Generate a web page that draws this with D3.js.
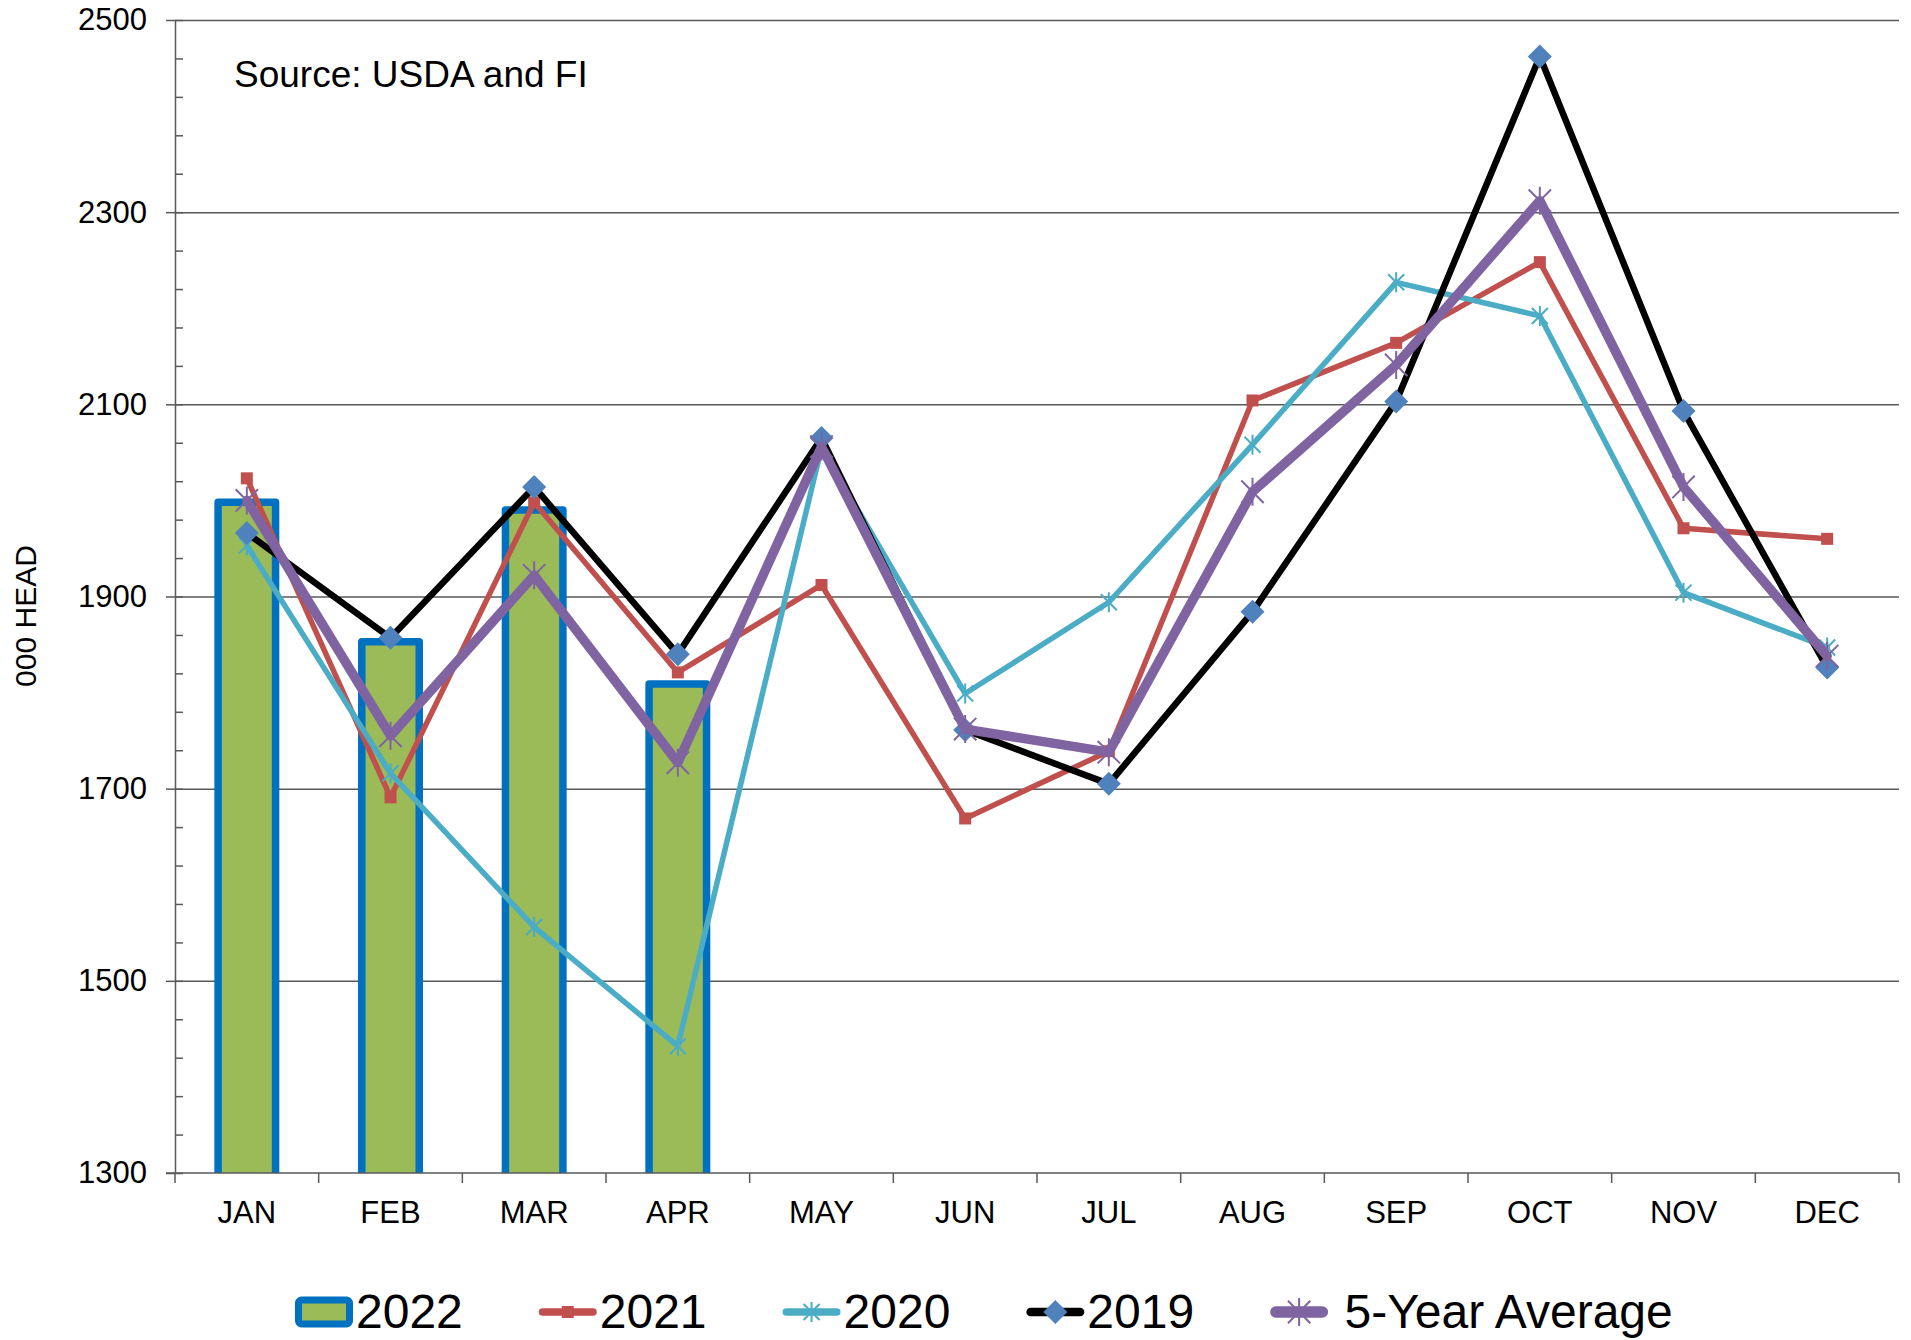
<!DOCTYPE html>
<html>
<head>
<meta charset="utf-8">
<script src="https://cdnjs.cloudflare.com/ajax/libs/d3/7.8.5/d3.min.js"></script>
<style>
  body { margin: 0; background: #fff; }
  text { font-family: "Liberation Sans", Arial, sans-serif; fill: #000; }
</style>
</head>
<body>
<div id="chart"></div>
<script>
// data (000 head)
var months = ["JAN", "FEB", "MAR", "APR", "MAY", "JUN", "JUL", "AUG", "SEP", "OCT", "NOV", "DEC"]
var yTicks = [1300, 1500, 1700, 1900, 2100, 2300, 2500]
var v2022 = [1998, 1853, 1990, 1809]
var v2021 = [2023, 1691, 1998, 1821, 1912, 1669, 1739, 2104, 2164, 2248, 1971, 1960]
var v2020 = [1953, 1716, 1556, 1432, 2055, 1799, 1894, 2058, 2227, 2192, 1904, 1847]
var v2019 = [1966, 1857, 2014, 1840, 2065, 1761, 1705, 1884, 2103, 2462, 2093, 1826]
var v5yr = [2000, 1755, 1922, 1727, 2056, 1762, 1738, 2009, 2141, 2312, 2014, 1838]
var seriesNames = ["2022", "2021", "2020", "2019", " 5-Year Average"]

var margin = {top: 20, right: 12, bottom: 167, left: 175},
    fullW = 1911, fullH = 1340,
    width = fullW - margin.left - margin.right,
    height = fullH - margin.top - margin.bottom

var svg = d3.select("#chart")
    .append("svg")
    .attr("width", fullW)
    .attr("height", fullH)

var g = svg.append("g")
    .attr("transform", "translate(" + margin.left + "," + margin.top + ")")

var x = d3.scaleBand().domain(months).range([0, width]).padding(0)
var y = d3.scaleLinear().domain([1300, 2500]).range([height, 0])

// gridlines
g.append("g")
    .call(d3.axisLeft(y).tickValues(yTicks.slice(1)).tickSize(-width).tickFormat(""))
    .call(s => s.select(".domain").remove())
    .selectAll("line")
    .attr("stroke", "#868686")
    .attr("stroke-width", 1.5)

g.append("clipPath").attr("id", "plot")
    .append("rect").attr("width", width).attr("height", height)

// 2022 bars
var barW = x.bandwidth() * 0.4
g.append("g").attr("clip-path", "url(#plot)")
    .selectAll("rect")
    .data(v2022)
    .enter()
    .append("rect")
    .attr("x", (d, i) => x(months[i]) + (x.bandwidth() - barW) / 2)
    .attr("y", d => y(d))
    .attr("width", barW)
    .attr("height", d => y(1300) - y(d) + 10)
    .attr("fill", "#9BBB59")
    .attr("stroke", "#0070C0")
    .attr("stroke-width", 7.5)
    .attr("stroke-linejoin", "round")

// y axis: major ticks outside, minor ticks inside
var yAxis = g.append("g")
    .call(d3.axisLeft(y).tickValues(yTicks).tickSize(9).tickPadding(19).tickSizeOuter(0).tickFormat(d3.format("d")))
yAxis.selectAll("text").attr("font-size", "31px")
var minor = d3.range(1300, 2501, 40)
g.append("g")
    .call(d3.axisRight(y).tickValues(minor).tickSize(8).tickFormat("").tickSizeOuter(0))
    .select(".domain").remove()
g.selectAll(".tick line").attr("stroke", "#595959").attr("stroke-width", 1.5)
yAxis.select(".domain").attr("stroke", "#595959").attr("stroke-width", 1.5)

// x axis
var xAxis = g.append("g")
    .attr("transform", "translate(0," + height + ")")
xAxis.append("line")
    .attr("x1", -9).attr("x2", width)
    .attr("stroke", "#595959").attr("stroke-width", 1.5)
xAxis.selectAll(".bound")
    .data(months.concat(["end"]))
    .enter()
    .append("line")
    .attr("x1", d => d == "end" ? width : x(d))
    .attr("x2", d => d == "end" ? width : x(d))
    .attr("y1", 0).attr("y2", 10)
    .attr("stroke", "#595959").attr("stroke-width", 1.5)
xAxis.selectAll(".lbl")
    .data(months)
    .enter()
    .append("text")
    .attr("x", d => x(d) + x.bandwidth() / 2)
    .attr("y", 50)
    .attr("text-anchor", "middle")
    .attr("font-size", "31px")
    .text(d => d)

// markers
function diamond(sel, color, r) {
    sel.append("path").attr("d", "M0," + (-r) + "L" + r + ",0L0," + r + "L" + (-r) + ",0Z")
        .attr("fill", color)
}
function square(sel, color, s) {
    sel.append("rect").attr("x", -s / 2).attr("y", -s / 2).attr("width", s).attr("height", s)
        .attr("fill", color)
}
function star(sel, color, r) {
    var a = r * 0.8
    sel.append("path")
        .attr("d", "M" + (-a) + "," + (-a) + "L" + a + "," + a + "M" + a + "," + (-a) + "L" + (-a) + "," + a +
            "M0," + (-r) + "L0," + r)
        .attr("stroke", color).attr("stroke-width", 2).attr("fill", "none")
}

var lineSeries = [
    {name: "2021", values: v2021, color: "#C0504D", lw: 5.5, marker: s => square(s, "#C0504D", 12)},
    {name: "2020", values: v2020, color: "#4BACC6", lw: 5.5, marker: s => star(s, "#4BACC6", 10)},
    {name: "2019", values: v2019, color: "#000000", lw: 6.5, marker: s => diamond(s, "#4F81BD", 12)},
    {name: "5yr", values: v5yr, color: "#8064A2", lw: 9.5, marker: s => star(s, "#8064A2", 14)}
]

var line = d3.line()
    .x((d, i) => x(months[i]) + x.bandwidth() / 2)
    .y(d => y(d))

lineSeries.forEach(s => {
    g.append("path")
        .datum(s.values)
        .attr("d", line)
        .attr("fill", "none")
        .attr("stroke", s.color)
        .attr("stroke-width", s.lw)
        .attr("stroke-linejoin", "round")
        .attr("stroke-linecap", "round")
    g.append("g").selectAll("g")
        .data(s.values)
        .enter()
        .append("g")
        .attr("transform", (d, i) => "translate(" + (x(months[i]) + x.bandwidth() / 2) + "," + y(d) + ")")
        .each(function () { s.marker(d3.select(this)) })
})

// source note
svg.append("text")
    .attr("x", 234)
    .attr("y", 87)
    .attr("font-size", "37px")
    .text("Source: USDA and FI")

// y axis title
svg.append("text")
    .attr("transform", "translate(36,616) rotate(-90)")
    .attr("text-anchor", "middle")
    .attr("font-size", "30px")
    .text("000 HEAD")

// legend
var legend = svg.append("g").attr("transform", "translate(0,1312)")
var lx = 295
seriesNames.forEach((name, i) => {
    var item = legend.append("g").attr("transform", "translate(" + lx + ",0)")
    if (i == 0) {
        item.append("rect")
            .attr("x", 3.5).attr("y", -12)
            .attr("width", 51).attr("height", 24)
            .attr("rx", 3)
            .attr("fill", "#9BBB59")
            .attr("stroke", "#0070C0")
            .attr("stroke-width", 7)
    } else {
        var s = lineSeries[i - 1]
        var lw = s.lw + 2
        item.append("line")
            .attr("x1", lw / 2).attr("x2", 58 - lw / 2)
            .attr("stroke", s.color)
            .attr("stroke-width", lw)
            .attr("stroke-linecap", "round")
        var m = item.append("g").attr("transform", "translate(29,0)")
        s.marker(m)
    }
    var t = item.append("text")
        .attr("x", 61)
        .attr("y", 16)
        .attr("font-size", "48px")
        .style("white-space", "pre")
        .text(name)
    lx += 61 + t.node().getComputedTextLength() + 76
})
</script>
</body>
</html>
